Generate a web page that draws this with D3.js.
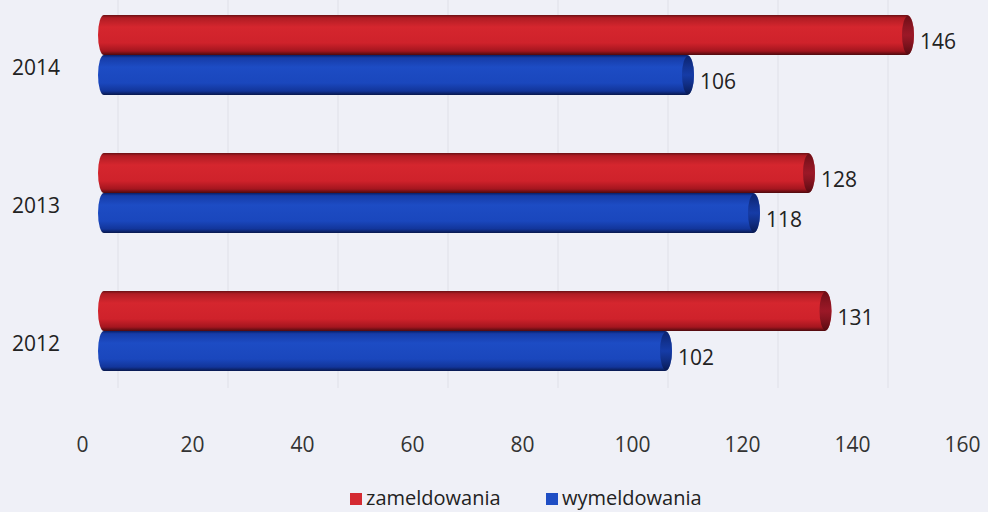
<!DOCTYPE html>
<html><head><meta charset="utf-8">
<script src="https://cdn.jsdelivr.net/npm/d3@7"></script>
<style>
html,body{margin:0;padding:0;background:#eff0f7;}
svg{display:block;font-family:"Open Sans","Lato",sans-serif;}
</style></head>
<body><svg id="c" width="988" height="512"></svg>
<script>
const years = ["2014", "2013", "2012"];
const zameldowania = [146, 128, 131];
const wymeldowania = [106, 118, 102];
const seriesNames = ["zameldowania", "wymeldowania"];
const tickValues = [0, 20, 40, 60, 80, 100, 120, 140, 160];

const svg = d3.select("#c");
const W = 988, H = 512;
svg.append("rect").attr("width", W).attr("height", H).attr("fill", "#eff0f7");

const x = d3.scaleLinear().domain([0, 160]).range([82, 962]);
const y = d3.scaleBand().domain(years).range([-14, 400]);
const sub = d3.scaleBand().domain(seriesNames).range([-40, 40]);
const depth = 22, backShift = 36;

const defs = svg.append("defs");
function grad(id, stops) {
  const g = defs.append("linearGradient").attr("id", id).attr("x1", 0).attr("y1", 0).attr("x2", 0).attr("y2", 1);
  stops.forEach(s => g.append("stop").attr("offset", s[0]).attr("stop-color", s[1]));
}
grad("gRed", [[0, "#6a1014"], [0.07, "#b01c24"], [0.3, "#d5262e"], [0.7, "#cf222b"], [0.9, "#a4161f"], [1, "#4e0a0e"]]);
grad("gBlue", [[0, "#0a1f66"], [0.07, "#163ca8"], [0.3, "#1d4cc4"], [0.7, "#1a47bd"], [0.9, "#12359a"], [1, "#08184d"]]);
grad("gRedCap", [[0, "#5e0c14"], [0.5, "#8e1526"], [1, "#4e0a10"]]);
grad("gBlueCap", [[0, "#0a1e62"], [0.5, "#1438a0"], [1, "#08184d"]]);

// back-wall gridlines
svg.append("g").selectAll("line").data(tickValues).join("line")
  .attr("x1", d => x(d) + backShift).attr("x2", d => x(d) + backShift)
  .attr("y1", 0).attr("y2", 388)
  .attr("stroke", "#dfe0e8").attr("stroke-width", 1);

const rows = years.map((yr, i) => ({ yr, vals: [
  { s: "zameldowania", v: zameldowania[i], fill: "url(#gRed)", cap: "url(#gRedCap)" },
  { s: "wymeldowania", v: wymeldowania[i], fill: "url(#gBlue)", cap: "url(#gBlueCap)" }
]}));

const rxL = 6, rxR = 7;
const g = svg.append("g");
rows.forEach(r => {
  const cy = y(r.yr) + y.bandwidth() / 2;
  r.vals.forEach(d => {
    const top = cy + sub(d.s), h = sub.bandwidth();
    const x0 = x(0) + depth, x1 = x(d.v) + depth;
    const ry = h / 2, mid = top + ry;
    g.append("path")
      .attr("d", `M${x0},${top} L${x1},${top} A${rxR},${ry} 0 0 1 ${x1},${top + h} L${x0},${top + h} A${rxL},${ry} 0 0 1 ${x0},${top} Z`)
      .attr("fill", d.fill);
    g.append("ellipse").attr("cx", x1 + 1).attr("cy", mid).attr("rx", rxR - 1).attr("ry", ry - 1)
      .attr("fill", d.cap).attr("opacity", 0.8);
    g.append("text").attr("x", x1 + 13).attr("y", mid + 14)
      .attr("font-size", 21).attr("fill", "#222").text(d.v);
  });
  svg.append("text").attr("x", 60).attr("y", cy + 20)
    .attr("text-anchor", "end").attr("font-size", 21).attr("fill", "#222").text(r.yr);
});

// x axis
const ax = svg.append("g").attr("transform", "translate(0,452)")
  .call(d3.axisBottom(x).tickValues(tickValues).tickSize(0).tickPadding(0));
ax.select(".domain").remove();
ax.selectAll("text").attr("font-size", 21).attr("fill", "#333")
  .attr("font-family", "'Open Sans','Lato',sans-serif").attr("dy", "0");

// legend
const legend = svg.append("g");
const items = [
  { name: seriesNames[0], color: "#d42a32", x: 350 },
  { name: seriesNames[1], color: "#1f4ec4", x: 546 }
];
items.forEach(it => {
  legend.append("rect").attr("x", it.x).attr("y", 493).attr("width", 12).attr("height", 12).attr("fill", it.color);
  legend.append("text").attr("x", it.x + 16).attr("y", 505)
    .attr("font-size", 20).attr("fill", "#222").text(it.name);
});
</script></body></html>
